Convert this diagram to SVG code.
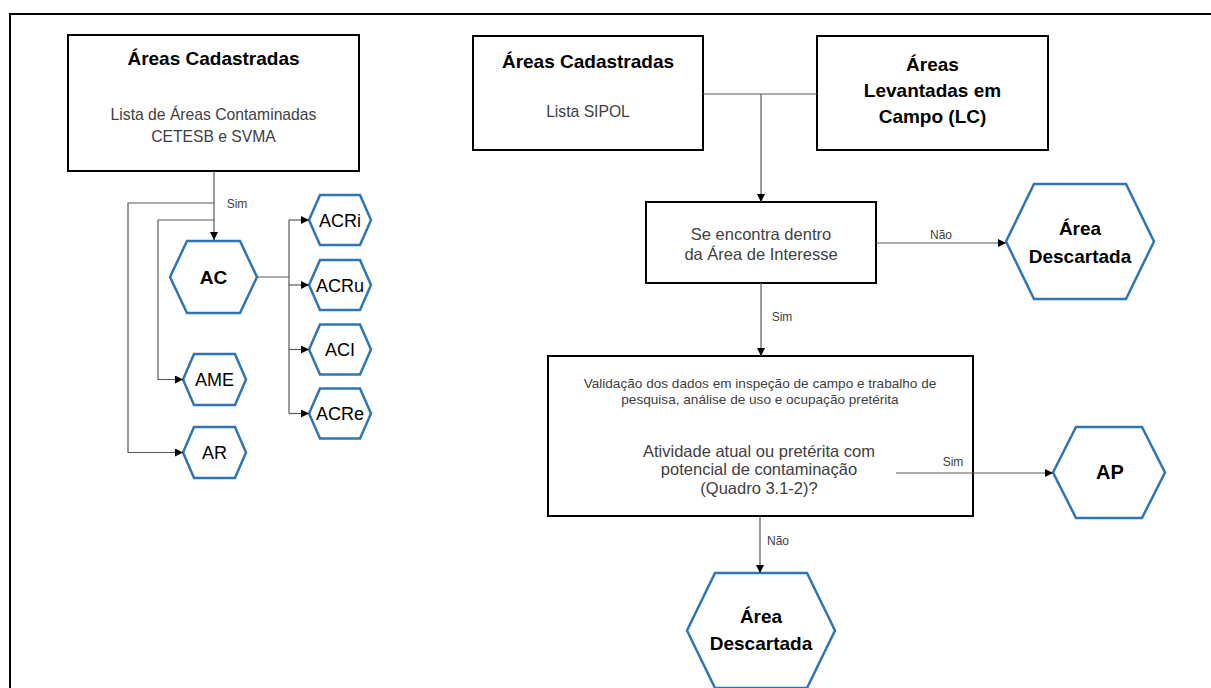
<svg xmlns="http://www.w3.org/2000/svg" width="1211" height="688" viewBox="0 0 1211 688">
<defs>
<marker id="arr" viewBox="0 0 8 8" refX="8" refY="4" markerWidth="8" markerHeight="8" markerUnits="userSpaceOnUse" orient="auto">
<path d="M0,0 L8,4 L0,8 z" fill="#000"/>
</marker>
<style>
.box{fill:#fff;stroke:#000;stroke-width:2}
.hex{fill:#fff;stroke:#2E75B6;stroke-width:2.5;stroke-linejoin:miter}
.con{fill:none;stroke:#595959;stroke-width:1.2}
.arrow{marker-end:url(#arr)}
.t{font-family:"Liberation Sans",Arial,sans-serif;text-anchor:middle}
.title{font-size:19px;font-weight:bold;fill:#000}
.sub{font-size:15.7px;fill:#404040}
.dec{font-size:16.5px;fill:#404040}
.small{font-size:13.6px;fill:#404040}
.lbl{font-size:12px;fill:#404040}
.hx{font-size:18px;fill:#000}
.hxb{font-size:19px;font-weight:bold;fill:#000}
</style>
</defs>
<rect x="10" y="14" width="1215" height="690" fill="none" stroke="#000" stroke-width="2"/>

<g id="box-cetesb">
<rect class="box" x="68" y="35" width="291" height="136"/>
<text class="t title" x="213.5" y="65">Áreas Cadastradas</text>
<text class="t sub" x="213.5" y="120">Lista de Áreas Contaminadas</text>
<text class="t sub" x="213.5" y="142">CETESB e SVMA</text>
</g>

<g id="hex-AC">
<polygon class="hex" points="170,277 187,241 240,241 257,277 240,313 187,313"/>
<text class="t hxb" x="213.5" y="284">AC</text>
</g>
<g id="hex-ACRi">
<polygon class="hex" points="309,220 320,195 360,195 371,220 360,245 320,245"/>
<text class="t hx" x="340" y="226.5">ACRi</text>
</g>
<g id="hex-ACRu">
<polygon class="hex" points="309,285 320,260 360,260 371,285 360,310 320,310"/>
<text class="t hx" x="340" y="291.5">ACRu</text>
</g>
<g id="hex-ACI">
<polygon class="hex" points="309,349.5 320,324.5 360,324.5 371,349.5 360,374.5 320,374.5"/>
<text class="t hx" x="340" y="356">ACI</text>
</g>
<g id="hex-ACRe">
<polygon class="hex" points="309,413.5 320,388.5 360,388.5 371,413.5 360,438.5 320,438.5"/>
<text class="t hx" x="340" y="420">ACRe</text>
</g>
<g id="hex-AME">
<polygon class="hex" points="183,379.5 194,354 235,354 246,379.5 235,405 194,405"/>
<text class="t hx" x="214.5" y="386">AME</text>
</g>
<g id="hex-AR">
<polygon class="hex" points="183,452.5 194,427 235,427 246,452.5 235,478 194,478"/>
<text class="t hx" x="214.5" y="459">AR</text>
</g>

<g id="box-sipol">
<rect class="box" x="473" y="36" width="230" height="114"/>
<text class="t title" x="588" y="68">Áreas Cadastradas</text>
<text class="t sub" x="588" y="117">Lista SIPOL</text>
</g>

<g id="box-lc">
<rect class="box" x="817" y="36" width="231" height="114"/>
<text class="t title" x="932.5" y="71">Áreas</text>
<text class="t title" x="932.5" y="97">Levantadas em</text>
<text class="t title" x="932.5" y="123">Campo (LC)</text>
</g>

<g id="box-interesse">
<rect class="box" x="646" y="202" width="230" height="81"/>
<text class="t dec" x="761" y="240">Se encontra dentro</text>
<text class="t dec" x="761" y="260">da Área de Interesse</text>
</g>

<g id="hex-descartada-1">
<polygon class="hex" points="1006,241.5 1034,184 1126,184 1154,241.5 1126,299 1034,299"/>
<text class="t hxb" x="1080" y="235">Área</text>
<text class="t hxb" x="1080" y="263">Descartada</text>
</g>

<g id="box-validacao">
<rect class="box" x="548" y="356" width="425" height="160"/>
<text class="t small" x="760" y="388">Validação dos dados em inspeção de campo e trabalho de</text>
<text class="t small" x="760" y="404">pesquisa, análise de uso e ocupação pretérita</text>
<text class="t dec" x="759" y="457">Atividade atual ou pretérita com</text>
<text class="t dec" x="759" y="475">potencial de contaminação</text>
<text class="t dec" x="759" y="494">(Quadro 3.1-2)?</text>
</g>

<g id="hex-AP">
<polygon class="hex" points="1053,472.5 1076,427 1142,427 1165,472.5 1142,518 1076,518"/>
<text class="t hxb" x="1110" y="479" style="font-size:20px">AP</text>
</g>

<g id="hex-descartada-2">
<polygon class="hex" points="687,630.5 715,573 807,573 835,630.5 807,688 715,688"/>
<text class="t hxb" x="761" y="623">Área</text>
<text class="t hxb" x="761" y="650">Descartada</text>
</g>

<g id="connectors">
<path class="con arrow" d="M214,171 V240"/>
<path class="con arrow" d="M214,203 H128 V452.5 H183"/>
<path class="con arrow" d="M214,220 H158 V379.5 H183"/>
<path class="con" d="M257,277 H289 M289,220 V413.5"/>
<path class="con arrow" d="M289,220 H309"/>
<path class="con arrow" d="M289,285 H309"/>
<path class="con arrow" d="M289,349.5 H309"/>
<path class="con arrow" d="M289,413.5 H309"/>
<path class="con" d="M703,94 H817"/>
<path class="con arrow" d="M761,94 V202"/>
<path class="con arrow" d="M876,243 H1006"/>
<path class="con arrow" d="M761,283 V356"/>
<path class="con arrow" d="M896,473 H1053"/>
<path class="con arrow" d="M760,516 V573"/>
<text class="t lbl" x="237" y="208">Sim</text>
<text class="t lbl" x="941" y="239">Não</text>
<text class="t lbl" x="782" y="321">Sim</text>
<text class="t lbl" x="953" y="466">Sim</text>
<text class="t lbl" x="778" y="545">Não</text>
</g>
</svg>
